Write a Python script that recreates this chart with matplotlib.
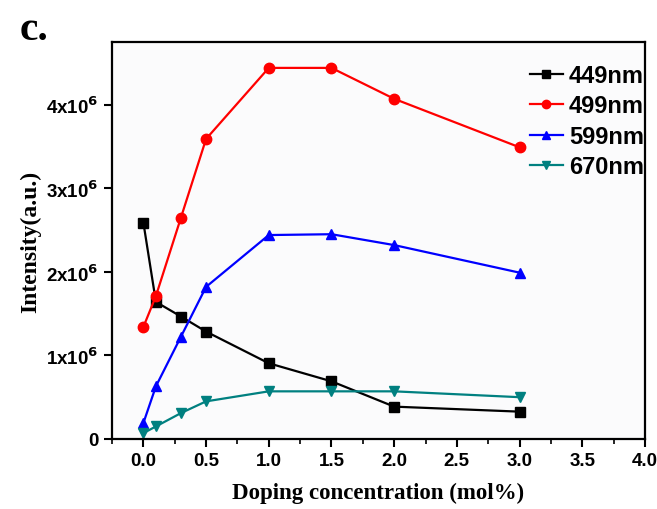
import matplotlib
matplotlib.use("Agg")
import matplotlib.pyplot as plt
from matplotlib.ticker import MultipleLocator, FuncFormatter

# doping concentration (mol%)
conc = [0.0, 0.1, 0.3, 0.5, 1.0, 1.5, 2.0, 3.0]

# emission intensity (a.u.) at each wavelength
i449 = [2.59e6, 1.64e6, 1.465e6, 1.285e6, 0.906e6, 0.69e6, 0.387e6, 0.327e6]
i499 = [1.34e6, 1.71e6, 2.65e6, 3.59e6, 4.44e6, 4.44e6, 4.07e6, 3.49e6]
i599 = [0.19e6, 0.63e6, 1.225e6, 1.82e6, 2.44e6, 2.45e6, 2.32e6, 1.99e6]
i670 = [0.07e6, 0.15e6, 0.31e6, 0.45e6, 0.57e6, 0.57e6, 0.57e6, 0.50e6]

series = [
    (i449, "449nm", "black", "s"),
    (i499, "499nm", "red", "o"),
    (i599, "599nm", "blue", "^"),
    (i670, "670nm", "#008080", "v"),
]

fig = plt.figure(figsize=(6.57, 5.10), dpi=100, facecolor="white")
ax = fig.add_axes([0.1705, 0.1373, 0.8112, 0.7784])
ax.set_facecolor("#fbfbfc")

for vals, lab, col, mk in series:
    ax.plot(conc, vals, color=col, marker=mk, markersize=7.5, linewidth=1.6, label=lab)

ax.set_xlim(-0.25, 4.0)
ax.set_ylim(0, 4.75e6)
ax.xaxis.set_major_locator(MultipleLocator(0.5))
ax.xaxis.set_minor_locator(MultipleLocator(0.25))
ax.yaxis.set_major_locator(MultipleLocator(1e6))

def ylab(v, pos):
    n = int(round(v / 1e6))
    return "0" if n == 0 else r"%dx10$^{\mathbf{6}}$" % n

ax.yaxis.set_major_formatter(FuncFormatter(ylab))

for s in ax.spines.values():
    s.set_linewidth(1.6)
ax.tick_params(which="major", direction="out", length=6, width=1.5, top=False, right=False)
ax.tick_params(which="minor", direction="out", length=3.5, width=1.2, top=False, right=False)
for t in ax.get_xticklabels() + ax.get_yticklabels():
    t.set_fontfamily("Liberation Sans")
    t.set_fontweight("bold")
    t.set_fontsize(13.5)

ax.set_xlabel("Doping concentration (mol%)", fontfamily="Liberation Serif",
              fontweight="bold", fontsize=16.5, labelpad=9)
ax.set_ylabel("Intensity(a.u.)", fontfamily="Liberation Serif",
              fontweight="bold", fontsize=17, labelpad=4)

leg = ax.legend(loc="upper right", bbox_to_anchor=(0.998, 0.945), frameon=False,
                prop={"family": "Liberation Sans", "weight": "bold", "size": 17},
                handlelength=1.4, handletextpad=0.25, labelspacing=0.32,
                borderpad=0, borderaxespad=0)
for h in leg.legend_handles:
    h.set_markersize(6)

fig.text(0.03, 0.922, "c.", fontfamily="Liberation Serif", fontweight="bold", fontsize=30)

fig.savefig("out.png", dpi=100, facecolor="white")
